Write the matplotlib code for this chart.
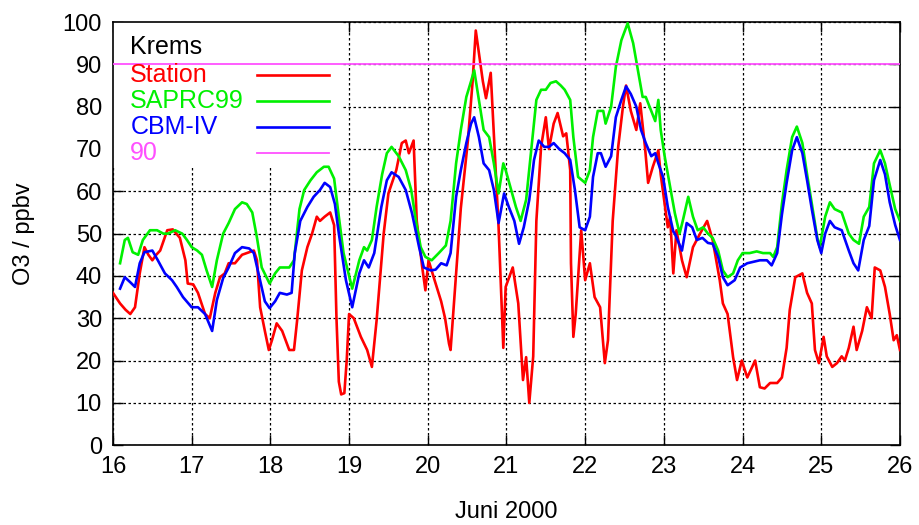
import matplotlib
matplotlib.use("Agg")
import matplotlib.pyplot as plt
from matplotlib.patches import Rectangle

plt.rcParams['font.family'] = ['Liberation Sans', 'DejaVu Sans']

# Ozone at Krems, 16-26 June 2000 (day of month, ppbv)
station_day = [
    16.00, 16.09, 16.16, 16.22, 16.28, 16.34, 16.40, 16.45, 16.50, 16.55,
    16.60, 16.69, 16.76, 16.85, 16.92, 16.95, 17.02, 17.08, 17.17, 17.23,
    17.30, 17.36, 17.42, 17.47, 17.55, 17.64, 17.73, 17.79, 17.83, 17.87,
    17.93, 17.98, 18.02, 18.08, 18.15, 18.24, 18.30, 18.34, 18.40, 18.47,
    18.53, 18.59, 18.63, 18.69, 18.76, 18.81, 18.84, 18.87, 18.90, 18.94,
    18.97, 19.00, 19.06, 19.15, 19.23, 19.29, 19.35, 19.44, 19.50, 19.60,
    19.67, 19.72, 19.76, 19.82, 19.86, 19.93, 19.97, 20.01, 20.08, 20.17,
    20.22, 20.27, 20.29, 20.36, 20.42, 20.51, 20.57, 20.61, 20.65, 20.70,
    20.74, 20.80, 20.83, 20.90, 20.96, 20.99, 21.08, 21.15, 21.21, 21.25,
    21.29, 21.34, 21.38, 21.44, 21.50, 21.54, 21.60, 21.65, 21.72, 21.76,
    21.81, 21.82, 21.85, 21.88, 21.95, 22.00, 22.06, 22.12, 22.19, 22.25,
    22.29, 22.35, 22.42, 22.48, 22.52, 22.58, 22.65, 22.70, 22.76, 22.80,
    22.86, 22.93, 22.96, 23.05, 23.08, 23.12, 23.16, 23.23, 23.29, 23.37,
    23.46, 23.55, 23.62, 23.71, 23.75, 23.81, 23.88, 23.93, 23.99, 24.06,
    24.16, 24.22, 24.28, 24.35, 24.44, 24.50, 24.56, 24.60, 24.67, 24.76,
    24.82, 24.88, 24.92, 24.97, 25.03, 25.07, 25.14, 25.20, 25.26, 25.30,
    25.35, 25.41, 25.45, 25.52, 25.58, 25.64, 25.68, 25.75, 25.81, 25.87,
    25.92, 25.96, 26.00,
]
station_o3 = [
    36.0, 33.5, 32.0, 31.0, 32.6, 40.6, 46.8, 45.0, 43.7, 45.0,
    46.0, 50.8, 51.0, 49.0, 43.7, 38.2, 38.0, 36.0, 31.0, 30.0,
    36.0, 39.7, 40.6, 43.0, 43.0, 45.0, 45.6, 46.0, 43.7, 32.6,
    27.0, 22.5, 24.8, 28.8, 27.0, 22.5, 22.5, 29.5, 41.3, 46.8,
    50.0, 54.0, 53.0, 54.0, 55.0, 52.0, 30.0, 15.0, 12.0, 12.3,
    20.0, 31.0, 30.0, 25.6, 22.5, 18.5, 29.5, 50.0, 59.5, 65.0,
    71.4, 72.0, 69.0, 72.0, 53.0, 42.0, 36.6, 43.7, 39.4, 34.0,
    30.0, 24.0, 22.5, 40.6, 56.0, 72.0, 86.0, 98.0, 92.6, 86.0,
    82.0, 88.0, 77.0, 51.5, 23.0, 37.4, 42.0, 33.5, 15.4, 20.8,
    10.0, 21.0, 53.0, 70.5, 77.5, 70.0, 76.0, 78.5, 73.0, 73.7,
    65.0, 43.0, 25.6, 31.0, 50.8, 39.0, 43.0, 35.0, 32.6, 19.4,
    24.8, 53.0, 70.5, 80.0, 85.0, 79.0, 74.5, 80.8, 70.5, 62.0,
    65.8, 69.7, 64.0, 51.5, 54.0, 40.6, 50.8, 43.7, 39.7, 46.8,
    50.0, 53.0, 48.5, 39.0, 33.5, 31.0, 20.8, 15.4, 20.0, 16.0,
    20.0, 13.7, 13.4, 14.7, 14.7, 16.0, 23.0, 32.0, 39.7, 40.6,
    36.0, 33.5, 22.5, 19.4, 25.6, 21.0, 18.5, 19.4, 21.0, 20.0,
    23.0, 28.0, 22.5, 27.0, 32.6, 30.0, 42.0, 41.3, 37.4, 31.0,
    24.8, 26.0, 22.5,
]

saprc_day = [
    16.09, 16.15, 16.19, 16.25, 16.32, 16.38, 16.47, 16.56, 16.64, 16.70,
    16.79, 16.88, 16.94, 17.00, 17.07, 17.13, 17.19, 17.26, 17.32, 17.40,
    17.47, 17.55, 17.64, 17.70, 17.77, 17.83, 17.89, 17.99, 18.06, 18.12,
    18.24, 18.30, 18.37, 18.43, 18.51, 18.59, 18.68, 18.74, 18.81, 18.87,
    18.93, 19.04, 19.13, 19.19, 19.23, 19.29, 19.35, 19.42, 19.48, 19.54,
    19.63, 19.72, 19.79, 19.85, 19.91, 19.97, 20.05, 20.14, 20.23, 20.29,
    20.36, 20.42, 20.49, 20.55, 20.59, 20.65, 20.71, 20.78, 20.84, 20.90,
    20.96, 20.99, 21.06, 21.12, 21.18, 21.25, 21.31, 21.38, 21.44, 21.50,
    21.56, 21.63, 21.69, 21.74, 21.81, 21.85, 21.91, 22.00, 22.06, 22.10,
    22.16, 22.23, 22.26, 22.33, 22.39, 22.46, 22.54, 22.61, 22.67, 22.73,
    22.77, 22.84, 22.89, 22.93, 22.96, 23.01, 23.08, 23.14, 23.20, 23.24,
    23.31, 23.37, 23.43, 23.50, 23.56, 23.62, 23.69, 23.75, 23.81, 23.88,
    23.94, 24.00, 24.09, 24.18, 24.26, 24.35, 24.39, 24.44, 24.50, 24.56,
    24.63, 24.69, 24.76, 24.82, 24.88, 24.95, 24.98, 25.05, 25.11, 25.17,
    25.26, 25.35, 25.41, 25.48, 25.54, 25.61, 25.67, 25.75, 25.81, 25.87,
    25.94, 26.00,
]
saprc_o3 = [
    43.0, 48.5, 49.0, 45.6, 45.0, 48.5, 50.8, 50.8, 50.0, 50.0,
    50.8, 50.0, 48.5, 46.8, 46.0, 45.0, 41.3, 37.4, 43.7, 50.0,
    52.5, 55.8, 57.4, 57.0, 55.0, 49.0, 42.0, 38.2, 40.6, 42.0,
    42.0, 43.7, 55.8, 60.3, 62.6, 64.5, 65.8, 65.8, 63.0, 54.0,
    45.4, 37.0, 43.7, 46.8, 46.0, 48.5, 56.3, 64.0, 69.0, 70.5,
    68.3, 65.0, 60.3, 53.0, 46.8, 44.5, 43.7, 45.4, 47.2, 53.0,
    66.6, 74.5, 82.3, 86.0, 88.6, 81.6, 74.5, 72.8, 66.6, 59.5,
    66.6, 65.0, 60.3, 56.3, 53.0, 58.0, 69.0, 81.6, 84.0, 84.0,
    85.6, 86.0, 85.0, 84.0, 81.6, 72.8, 63.4, 62.0, 65.0, 72.8,
    79.0, 79.0, 76.0, 80.0, 89.4, 95.7, 99.7, 95.0, 88.6, 82.3,
    82.3, 79.0, 76.6, 81.6, 74.5, 68.3, 61.0, 54.8, 50.0, 53.0,
    58.7, 54.0, 50.8, 51.5, 50.0, 49.0, 46.0, 41.3, 39.7, 40.6,
    43.7, 45.4, 45.4, 45.8, 45.4, 45.4, 44.5, 46.8, 57.0, 65.0,
    72.8, 75.3, 71.4, 64.0, 57.0, 49.0, 46.8, 54.0, 57.4, 55.8,
    55.0, 50.0, 48.5, 47.6, 54.0, 56.3, 66.6, 69.7, 66.6, 61.5,
    55.8, 53.0,
]

cbm_day = [
    16.09, 16.15, 16.22, 16.28, 16.34, 16.40, 16.50, 16.57, 16.66, 16.75,
    16.81, 16.89, 17.00, 17.08, 17.17, 17.26, 17.32, 17.40, 17.47, 17.55,
    17.64, 17.73, 17.79, 17.86, 17.93, 17.99, 18.06, 18.12, 18.21, 18.27,
    18.31, 18.38, 18.47, 18.55, 18.63, 18.69, 18.76, 18.82, 18.87, 18.96,
    19.04, 19.13, 19.19, 19.25, 19.32, 19.41, 19.48, 19.54, 19.63, 19.72,
    19.80, 19.89, 19.95, 20.04, 20.10, 20.17, 20.24, 20.29, 20.36, 20.42,
    20.49, 20.55, 20.59, 20.65, 20.71, 20.78, 20.84, 20.90, 20.97, 21.03,
    21.10, 21.16, 21.22, 21.29, 21.35, 21.41, 21.48, 21.54, 21.60, 21.67,
    21.74, 21.81, 21.87, 21.93, 22.00, 22.06, 22.10, 22.16, 22.20, 22.26,
    22.33, 22.39, 22.46, 22.52, 22.58, 22.65, 22.71, 22.77, 22.84, 22.89,
    22.93, 22.99, 23.05, 23.12, 23.14, 23.23, 23.29, 23.36, 23.42, 23.49,
    23.56, 23.62, 23.69, 23.75, 23.81, 23.90, 23.97, 24.06, 24.13, 24.22,
    24.31, 24.37, 24.44, 24.50, 24.56, 24.63, 24.69, 24.76, 24.82, 24.88,
    24.95, 25.00, 25.05, 25.11, 25.17, 25.26, 25.35, 25.41, 25.47, 25.54,
    25.61, 25.67, 25.75, 25.81, 25.87, 25.94, 26.00,
]
cbm_o3 = [
    37.0, 39.7, 38.5, 37.4, 43.0, 45.6, 46.0, 43.7, 40.6, 39.0,
    37.4, 35.0, 32.6, 32.6, 31.0, 27.0, 34.3, 39.5, 42.0, 45.4,
    46.8, 46.5, 45.4, 39.7, 34.0, 32.4, 34.0, 36.0, 35.6, 36.0,
    45.4, 53.0, 56.3, 58.7, 60.3, 62.0, 61.0, 57.0, 50.0, 39.0,
    32.6, 40.6, 43.7, 42.0, 45.4, 56.3, 62.6, 64.5, 63.4, 60.3,
    54.8, 46.8, 42.0, 41.3, 41.5, 43.0, 42.5, 45.4, 58.7, 65.0,
    71.4, 76.0, 77.5, 72.8, 66.6, 65.0, 60.3, 52.5, 59.5, 56.3,
    53.0, 47.6, 51.5, 58.0, 67.4, 72.0, 70.5, 70.5, 71.4, 70.0,
    69.0, 67.4, 60.3, 51.5, 50.8, 54.0, 63.4, 69.0, 69.0, 65.8,
    68.3, 77.5, 81.6, 84.8, 83.0, 80.0, 74.5, 71.4, 68.3, 69.0,
    66.6, 63.4, 56.3, 50.5, 50.0, 46.0, 52.5, 51.5, 48.5, 49.0,
    47.8, 47.6, 44.5, 39.7, 37.8, 39.0, 42.0, 43.0, 43.3, 43.7,
    43.7, 42.5, 45.4, 54.5, 62.0, 69.7, 72.8, 69.0, 62.6, 55.8,
    48.5, 45.4, 50.0, 53.0, 51.5, 50.8, 46.0, 43.0, 41.3, 48.5,
    51.8, 62.6, 67.4, 64.0, 57.4, 52.0, 48.5,
]

threshold = 90
day_ticks = list(range(16, 27))
o3_ticks = list(range(0, 101, 10))

fig = plt.figure(figsize=(9.2, 5.25), dpi=100)
ax = fig.add_axes([0.1228, 0.152, 0.8554, 0.806])

ax.plot(station_day, station_o3, color='#ff0000', lw=1.9, zorder=3)
ax.plot(saprc_day, saprc_o3, color='#00f000', lw=1.9, zorder=3)
ax.plot(cbm_day, cbm_o3, color='#0000ff', lw=1.9, zorder=3)
ax.axhline(threshold, color='#ff50ff', lw=1.3, zorder=4)

ax.set_xlim(16, 26)
ax.set_ylim(0, 100)
ax.set_xticks(day_ticks)
ax.set_yticks(o3_ticks)
ax.tick_params(direction='in', length=7, width=1, top=True, right=True,
               labelsize=17, pad=8)
for side in ax.spines.values():
    side.set_linewidth(1.2)

ax.set_axisbelow(True)
ax.grid(True, color='black', lw=0.9, linestyle=(0, (2, 2)))
# blank the grid behind the key
ax.add_patch(Rectangle((0, 0.657), 0.292, 0.343, transform=ax.transAxes,
                       facecolor='white', edgecolor='none', zorder=1))

ax.set_xlabel('Juni 2000', fontsize=17, labelpad=16)
ax.set_ylabel('O3 / ppbv', fontsize=17, labelpad=20)

# key: title plus left-justified labels with sample lines
ax.text(0.022, 0.94, 'Krems', transform=ax.transAxes, fontsize=18,
        va='center', ha='left', color='black', zorder=5)
key_rows = [('Station', '#ff0000', 1.9), ('SAPRC99', '#00f000', 1.9),
            ('CBM-IV', '#0000ff', 1.9), ('90', '#ff50ff', 1.3)]
for i, (label, color, lw) in enumerate(key_rows):
    y = 0.875 - i * 0.0615
    ax.text(0.022, y, label, transform=ax.transAxes, fontsize=18,
            va='center', ha='left', color=color, zorder=5)
    ax.plot([0.183, 0.275], [y, y], transform=ax.transAxes, color=color,
            lw=lw, zorder=5)

fig.savefig('out.png', dpi=100)
